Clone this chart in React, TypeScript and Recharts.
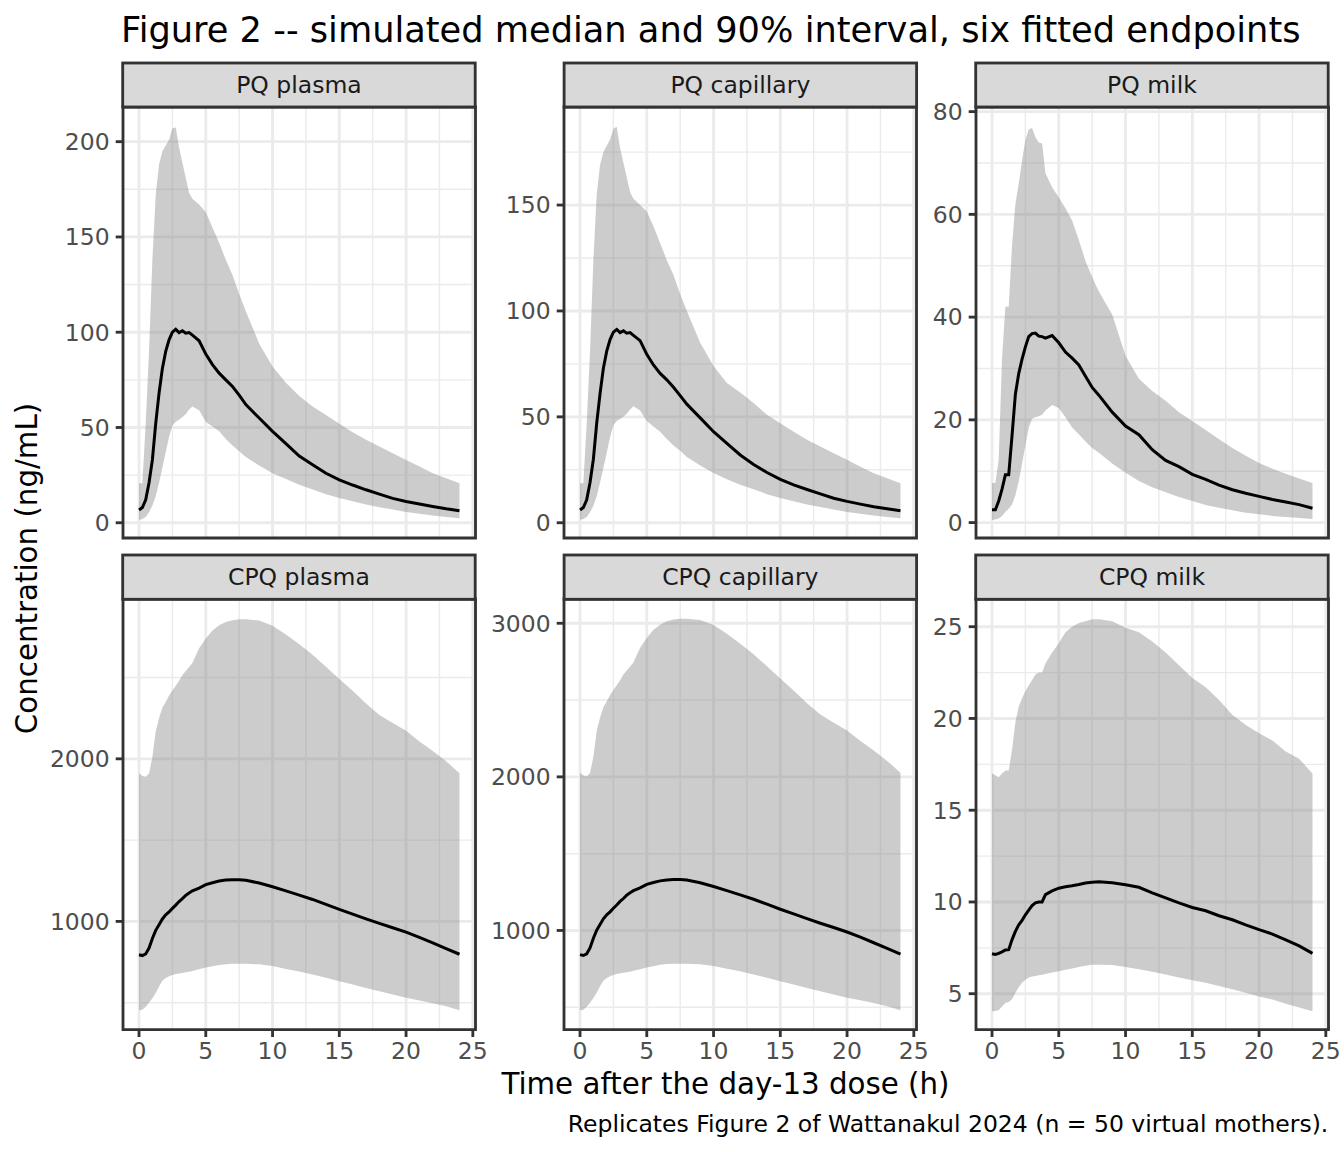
import React from 'react';
import {
  ComposedChart,
  Area,
  Line,
  XAxis,
  YAxis,
  CartesianGrid,
  ReferenceArea,
} from 'recharts';

// ---------------- data ----------------
const HOURS = [0, 0.25, 0.5, 0.75, 1, 1.25, 1.5, 1.75, 2, 2.25, 2.5, 2.75, 3, 3.25, 3.5, 3.75, 4, 4.5, 5, 5.5, 6, 6.5, 7, 7.5, 8, 9, 10, 11, 12, 13, 14, 15, 16, 17, 18, 19, 20, 21, 22, 23, 24];

const PANEL_TITLES = ['PQ plasma', 'PQ capillary', 'PQ milk', 'CPQ plasma', 'CPQ capillary', 'CPQ milk'];

const PQ_PLASMA_LO = [1.5, 2, 3, 5.5, 9, 14, 21, 29, 37, 45, 51, 53, 54, 55.5, 57, 59.5, 61, 59, 53, 50.5, 48, 44, 40.5, 37.5, 34.5, 30, 26, 23, 20, 17.5, 15, 13, 11.3, 9.6, 8.2, 6.9, 5.7, 4.7, 3.8, 3, 2.3];
const PQ_PLASMA_MED = [6.7, 8, 12, 21, 33, 52, 68, 81, 90, 96, 100, 101.5, 99.8, 100.8, 99.5, 99.8, 98.5, 95.5, 88.5, 83, 78.5, 75, 71.5, 67, 62, 55, 48, 41.5, 35, 30.5, 26, 22.5, 19.8, 17.3, 15, 12.8, 11.2, 9.8, 8.5, 7.3, 6.3];
const PQ_PLASMA_HI = [20.7, 20.7, 52, 90, 138, 172, 188, 195, 198, 201, 207, 207.5, 197, 189, 181, 173, 170, 167, 163, 155, 147, 138, 130, 120, 111, 94, 82, 73.5, 66.5, 61, 56.5, 52, 47.5, 43.5, 40, 36.5, 33, 29.5, 26, 23.3, 20.7];

const PQ_CAPILLARY_LO = [1.4, 1.8, 2.7, 5, 8, 12.5, 19, 26, 33, 40.5, 46, 48, 49, 50, 51.5, 53.5, 55, 53, 48, 45.5, 43, 39.5, 36.5, 34, 31, 27, 23.5, 20.5, 18, 15.8, 13.5, 11.7, 10.2, 8.6, 7.4, 6.2, 5.1, 4.2, 3.4, 2.7, 2.1];
const PQ_CAPILLARY_MED = [6, 7.2, 10.8, 19, 30, 47, 61, 73, 81, 86.5, 90, 91.3, 89.8, 90.6, 89.5, 89.8, 88.5, 86, 79.5, 74.5, 70.5, 67.5, 64, 60, 56, 49.5, 43, 37.5, 32, 27.5, 23.7, 20.5, 17.9, 15.7, 13.6, 11.6, 10.1, 8.8, 7.6, 6.6, 5.7];
const PQ_CAPILLARY_HI = [18.6, 18.6, 47, 81, 124, 155, 169, 175, 178, 181, 186, 187, 177, 170, 163, 156, 153, 150, 147, 140, 132, 124, 117, 108, 100, 85, 74, 66, 61.5, 56.5, 51, 47, 43, 39.2, 36, 32.8, 29.7, 26.5, 23.4, 21, 18.6];

const PQ_MILK_LO = [0.5, 0.6, 0.8, 1.3, 2.1, 2.7, 3.5, 5.3, 8, 11.5, 15, 18.5, 20.2, 20.5, 20.7, 21, 21.8, 22.9, 22.3, 20.5, 18.5, 17.2, 15.8, 14.5, 13.6, 11.5, 9.7, 8.1, 6.9, 5.9, 5.0, 4.2, 3.4, 2.9, 2.4, 1.9, 1.6, 1.3, 1.1, 0.9, 0.7];
const PQ_MILK_MED = [2.5, 2.5, 4.2, 6.5, 9.3, 9.3, 17, 25, 29, 31.8, 34.2, 36.2, 36.8, 36.9, 36.3, 36.2, 35.9, 36.4, 35, 33.2, 32, 30.7, 28.5, 26.3, 24.8, 21.5, 18.8, 17.1, 14.2, 12.1, 10.9, 9.4, 8.4, 7.3, 6.4, 5.7, 5.1, 4.5, 4.0, 3.5, 2.8];
const PQ_MILK_HI = [7.7, 7.7, 12.2, 32, 42, 42, 54, 62, 66, 70.5, 74.5, 76.5, 76.8, 75, 74, 73.8, 68, 65.3, 63.3, 61.2, 58.8, 55, 50.9, 47.8, 45, 40.5, 32.5, 28, 25.6, 23.7, 21.5, 19.8, 18.0, 16.2, 14.5, 13, 11.6, 10.5, 9.5, 8.6, 7.7];

const CPQ_PLASMA_LO = [453, 456, 475, 500, 528, 560, 600, 635, 652, 662, 670, 676, 680, 683, 687, 691, 695, 705, 716, 724, 732, 737, 739, 740, 739, 736, 725, 708, 692, 674, 653, 632, 612, 591, 571, 550, 530, 514, 497, 478, 454];
const CPQ_PLASMA_MED = [795, 790, 800, 836, 895, 945, 980, 1015, 1040, 1058, 1080, 1100, 1122, 1140, 1160, 1175, 1188, 1205, 1226, 1238, 1248, 1254, 1256, 1256, 1253, 1236, 1213, 1188, 1162, 1135, 1105, 1074, 1045, 1016, 988, 961, 934, 902, 868, 833, 798];
const CPQ_PLASMA_HI = [1912, 1895, 1890, 1910, 2010, 2170, 2250, 2315, 2350, 2390, 2420, 2450, 2480, 2515, 2540, 2565, 2590, 2680, 2740, 2790, 2822, 2842, 2853, 2858, 2858, 2850, 2819, 2765, 2705, 2640, 2566, 2491, 2418, 2340, 2270, 2220, 2172, 2107, 2048, 1985, 1912];

const CPQ_CAPILLARY_LO = [480, 483, 504, 530, 560, 594, 636, 673, 691, 702, 710, 717, 721, 724, 728, 732, 737, 747, 759, 767, 776, 781, 783, 784, 783, 780, 769, 750, 734, 714, 692, 670, 649, 626, 605, 583, 562, 545, 527, 507, 481];
const CPQ_CAPILLARY_MED = [843, 837, 848, 886, 949, 1002, 1039, 1076, 1102, 1121, 1145, 1166, 1189, 1208, 1230, 1246, 1259, 1277, 1300, 1312, 1323, 1329, 1331, 1331, 1328, 1311, 1286, 1259, 1232, 1203, 1171, 1138, 1108, 1077, 1047, 1019, 990, 956, 920, 883, 846];
const CPQ_CAPILLARY_HI = [2027, 2009, 2003, 2025, 2131, 2300, 2385, 2454, 2491, 2533, 2565, 2597, 2629, 2666, 2692, 2719, 2745, 2841, 2904, 2957, 2991, 3013, 3024, 3029, 3029, 3021, 2988, 2931, 2867, 2798, 2720, 2640, 2563, 2480, 2406, 2353, 2302, 2233, 2171, 2104, 2027];

const CPQ_MILK_LO = [4.04, 4.06, 4.1, 4.3, 4.5, 4.55, 4.7, 5.05, 5.35, 5.6, 5.76, 5.88, 5.94, 5.97, 6.0, 6.03, 6.07, 6.15, 6.23, 6.3, 6.38, 6.45, 6.53, 6.58, 6.58, 6.56, 6.46, 6.34, 6.2, 6.05, 5.88, 5.73, 5.6, 5.42, 5.25, 5.05, 4.85, 4.68, 4.46, 4.25, 4.04];
const CPQ_MILK_MED = [7.18, 7.14, 7.2, 7.28, 7.38, 7.4, 7.95, 8.4, 8.75, 9.0, 9.3, 9.55, 9.8, 9.95, 10.0, 10.0, 10.4, 10.6, 10.75, 10.83, 10.88, 10.95, 11.03, 11.08, 11.1, 11.05, 10.94, 10.8, 10.5, 10.22, 9.95, 9.7, 9.52, 9.25, 9.03, 8.75, 8.49, 8.25, 7.94, 7.61, 7.2];
const CPQ_MILK_HI = [17.0, 16.9, 16.8, 17.0, 17.16, 17.16, 18.3, 19.8, 20.65, 21.1, 21.5, 21.8, 22.1, 22.4, 22.5, 22.5, 23.0, 23.6, 24.1, 24.7, 25.0, 25.2, 25.3, 25.4, 25.4, 25.3, 24.95, 24.7, 24.2, 23.6, 22.9, 22.2, 21.7, 21.0, 20.2, 19.65, 19.2, 18.8, 18.2, 17.8, 17.0];

// axis tick values
const X_TICKS = [0, 5, 10, 15, 20, 25];
const X_MINOR = [2.5, 7.5, 12.5, 17.5, 22.5];
const Y_TICKS = [
  [0, 50, 100, 150, 200],
  [0, 50, 100, 150],
  [0, 20, 40, 60, 80],
  [1000, 2000],
  [1000, 2000, 3000],
  [5, 10, 15, 20, 25],
];
const Y_MINOR = [
  [25, 75, 125, 175],
  [25, 75, 125, 175],
  [10, 30, 50, 70],
  [500, 1500, 2500],
  [500, 1500, 2500],
  [7.5, 12.5, 17.5, 22.5],
];
const Y_DOMAINS = [
  [-8.0, 218.2],
  [-7.2, 196.3],
  [-3.0, 80.9],
  [334, 2983],
  [354, 3158],
  [3.04, 26.51],
];
const X_DOMAIN = [-1.2, 25.2];

const SERIES = [
  [PQ_PLASMA_LO, PQ_PLASMA_MED, PQ_PLASMA_HI],
  [PQ_CAPILLARY_LO, PQ_CAPILLARY_MED, PQ_CAPILLARY_HI],
  [PQ_MILK_LO, PQ_MILK_MED, PQ_MILK_HI],
  [CPQ_PLASMA_LO, CPQ_PLASMA_MED, CPQ_PLASMA_HI],
  [CPQ_CAPILLARY_LO, CPQ_CAPILLARY_MED, CPQ_CAPILLARY_HI],
  [CPQ_MILK_LO, CPQ_MILK_MED, CPQ_MILK_HI],
];

const TITLE = 'Figure 2 -- simulated median and 90% interval, six fitted endpoints';
const X_TITLE = 'Time after the day-13 dose (h)';
const Y_TITLE = 'Concentration (ng/mL)';
const CAPTION = 'Replicates Figure 2 of Wattanakul 2024 (n = 50 virtual mothers).';

// ---------------- layout ----------------
const FONT = "'DejaVu Sans', 'Noto Sans', sans-serif";
const COL_LEFT = [122.7, 564.1, 975.7];
const COL_W = 352.5;
const ROW_TOP = [107, 599.3];
const ROW_H = [431, 430.7];
const STRIP_TOP = [63, 555];
const YW = 84;
const MT = 14;
const MR = 15;
const MB = 6;
const XH = 50;
const LW = 2.84;

function buildRows(idx: number) {
  const [lo, med, hi] = SERIES[idx];
  return HOURS.map((t, i) => ({ t, band: [lo[i], hi[i]], med: med[i] }));
}

function Panel({ idx }: { idx: number }) {
  const col = idx % 3;
  const row = Math.floor(idx / 3);
  const bottom = row === 1;
  const width = YW + COL_W + MR;
  const height = MT + ROW_H[row] + (bottom ? XH : MB);
  const data = buildRows(idx);
  const dom = Y_DOMAINS[idx];
  const tickStyle = { fill: '#4D4D4D', fontSize: 23.5, fontFamily: FONT };
  return (
    <div style={{ position: 'absolute', left: COL_LEFT[col] - YW, top: ROW_TOP[row] - MT }}>
      <ComposedChart
        width={width}
        height={height}
        data={data}
        margin={{ top: MT, right: MR, left: 0, bottom: bottom ? 0 : MB }}
        style={{ overflow: 'visible' }}
      >
        <XAxis
          type="number"
          dataKey="t"
          domain={X_DOMAIN}
          ticks={X_TICKS}
          allowDataOverflow
          interval={0}
          hide={!bottom}
          height={XH}
          axisLine={false}
          tickLine={{ stroke: '#333333', strokeWidth: LW }}
          tickSize={7.3}
          tickMargin={5.5}
          tick={tickStyle}
        />
        <YAxis
          type="number"
          domain={dom}
          ticks={Y_TICKS[idx]}
          allowDataOverflow
          interval={0}
          width={YW}
          axisLine={false}
          tickLine={{ stroke: '#333333', strokeWidth: LW }}
          tickSize={7.3}
          tickMargin={6}
          tick={tickStyle}
        />
        <CartesianGrid
          stroke="#EBEBEB"
          strokeWidth={LW / 2}
          horizontalValues={Y_MINOR[idx]}
          verticalValues={X_MINOR}
        />
        <CartesianGrid
          stroke="#EBEBEB"
          strokeWidth={LW}
          horizontalValues={Y_TICKS[idx]}
          verticalValues={X_TICKS}
        />
        <Area
          dataKey="band"
          type="linear"
          stroke="none"
          fill="#7F7F7F"
          fillOpacity={0.4}
          isAnimationActive={false}
          activeDot={false}
        />
        <Line
          dataKey="med"
          type="linear"
          stroke="#000000"
          strokeWidth={3}
          dot={false}
          activeDot={false}
          isAnimationActive={false}
        />
        <ReferenceArea
          x1={X_DOMAIN[0]}
          x2={X_DOMAIN[1]}
          y1={dom[0]}
          y2={dom[1]}
          fill="none"
          fillOpacity={0}
          stroke="#333333"
          strokeWidth={LW}
          ifOverflow="visible"
        />
      </ComposedChart>
    </div>
  );
}

function Overlay() {
  return (
    <svg
      width={1344}
      height={1152}
      style={{ position: 'absolute', left: 0, top: 0, pointerEvents: 'none' }}
    >
      {PANEL_TITLES.map((name, idx) => {
        const col = idx % 3;
        const row = Math.floor(idx / 3);
        const x = COL_LEFT[col];
        const y = STRIP_TOP[row];
        const h = ROW_TOP[row] - STRIP_TOP[row];
        return (
          <g key={name}>
            <rect x={x} y={y} width={COL_W} height={h} fill="#D9D9D9" stroke="#333333" strokeWidth={LW} />
            <text
              x={x + COL_W / 2}
              y={y + h / 2 + 8.3}
              textAnchor="middle"
              fontFamily={FONT}
              fontSize={23.5}
              fill="#1A1A1A"
            >
              {name}
            </text>
          </g>
        );
      })}
      <text x={121} y={41.7} fontFamily={FONT} fontSize={35.2} fill="#000000">
        {TITLE}
      </text>
      <text x={725.5} y={1094} textAnchor="middle" fontFamily={FONT} fontSize={29.3} fill="#000000">
        {X_TITLE}
      </text>
      <text
        x={37}
        y={568.5}
        transform="rotate(-90 37 568.5)"
        textAnchor="middle"
        fontFamily={FONT}
        fontSize={29.3}
        fill="#000000"
      >
        {Y_TITLE}
      </text>
      <text x={1328.3} y={1131.7} textAnchor="end" fontFamily={FONT} fontSize={23.5} fill="#000000">
        {CAPTION}
      </text>
    </svg>
  );
}

export default function App() {
  return (
    <div
      style={{
        position: 'absolute',
        left: 0,
        top: 0,
        width: 1344,
        height: 1152,
        background: '#FFFFFF',
        overflow: 'hidden',
      }}
    >
      {[0, 1, 2, 3, 4, 5].map((idx) => (
        <Panel key={idx} idx={idx} />
      ))}
      <Overlay />
    </div>
  );
}
